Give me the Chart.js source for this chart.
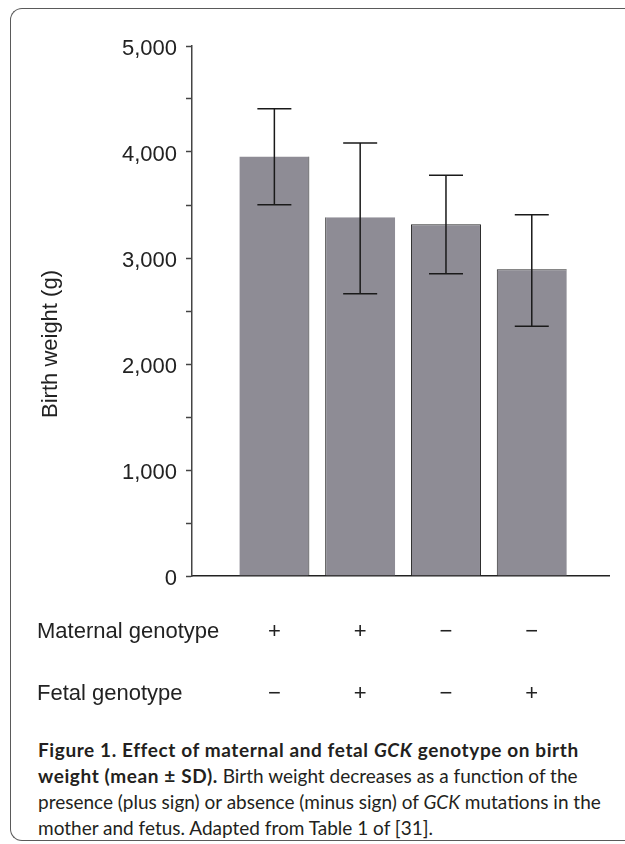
<!DOCTYPE html>
<html>
<head>
<meta charset="utf-8">
<script src="https://cdn.jsdelivr.net/npm/chart.js@4.4.1/dist/chart.umd.min.js"></script>
<style>
  html, body { margin: 0; padding: 0; background: #fff; }
  body { width: 625px; height: 844px; position: relative; overflow: hidden; }
  .frame {
    position: absolute; left: 10px; top: 8px; width: 640px; height: 833px;
    border: 1.5px solid #5a5a5a; border-right: none; border-radius: 12px 0 0 12px;
    box-sizing: border-box;
  }
  .plot { position: absolute; left: 0; top: 0; width: 625px; height: 720px; }
  .caption {
    position: absolute; left: 38px; top: 737px;
    font-family: Lato, 'Open Sans', sans-serif; font-size: 19px; line-height: 26px;
    color: #231f20; white-space: nowrap;
  }
  .caption b { letter-spacing: 0.6px; }
</style>
</head>
<body>
<div class="frame"></div>
<div class="plot"><canvas id="myChart"></canvas></div>
<div class="caption">
  <b>Figure 1. Effect of maternal and fetal <i>GCK</i> genotype on birth</b><br>
  <b>weight (mean ± SD).</b> Birth weight decreases as a function of the<br>
  presence (plus sign) or absence (minus sign) of <i>GCK</i> mutations in the<br>
  mother and fetus. Adapted from Table 1 of [31].
</div>
<script>
/* globals Chart:false */

// genotype of each group
const maternal = ['+', '+', '−', '−']
const fetal = ['−', '+', '−', '+']

// birth weight, g
const means = [3957, 3384, 3318, 2893]
const sdHigh = [4407, 4086, 3781, 3409]
const sdLow = [3503, 2663, 2852, 2356]

const yTicks = [0, 1000, 2000, 3000, 4000, 5000]

const FONT = "'Liberation Sans', Arial, sans-serif"
const INK = '#222'

const errorBars = {
  id: 'errorBars',
  afterDatasetsDraw (chart) {
    const { ctx, scales: { x, y } } = chart
    ctx.save()
    ctx.strokeStyle = '#1a1a1a'
    ctx.lineWidth = 1.5
    means.forEach((m, i) => {
      const px = x.getPixelForValue(i + 1)
      const top = y.getPixelForValue(sdHigh[i])
      const bot = y.getPixelForValue(sdLow[i])
      ctx.beginPath()
      ctx.moveTo(px, top); ctx.lineTo(px, bot)
      ctx.moveTo(px - 17, top); ctx.lineTo(px + 17, top)
      ctx.moveTo(px - 17, bot); ctx.lineTo(px + 17, bot)
      ctx.stroke()
    })
    ctx.restore()
  }
}

// y title sits a bit low in the original, and the row headers live left of the plot
const sideLabels = {
  id: 'sideLabels',
  afterDraw (chart) {
    const { ctx, scales: { x } } = chart
    ctx.save()
    ctx.fillStyle = INK
    ctx.font = '22px ' + FONT
    ctx.textBaseline = 'middle'
    ctx.textAlign = 'left'
    const row1 = x.top + 25 + 31
    ctx.fillText('Maternal genotype', 37, row1)
    ctx.fillText('Fetal genotype', 37, row1 + 62)
    ctx.translate(51, 344)
    ctx.rotate(-Math.PI / 2)
    ctx.textAlign = 'center'
    ctx.fillText('Birth weight (g)', 0, 0)
    ctx.restore()
  }
}

const ctx = document.getElementById('myChart')
// eslint-disable-next-line no-unused-vars
const myChart = new Chart(ctx, {
  type: 'bar',
  data: {
    datasets: [{
      data: means.map((m, i) => ({ x: i + 1, y: m })),
      backgroundColor: '#8e8c95',
      borderColor: '#2a2a2a',
      borderWidth: [
        { right: 1 },
        { left: 1 },
        { left: 1, top: 1, right: 1 },
        { left: 1, top: 1 }
      ],
      barPercentage: 0.816,
      categoryPercentage: 1
    }]
  },
  options: {
    responsive: true,
    maintainAspectRatio: false,
    animation: false,
    layout: { padding: { top: 46, right: 16, left: 0, bottom: 0 } },
    plugins: {
      legend: { display: false },
      tooltip: { enabled: false }
    },
    scales: {
      x: {
        type: 'linear',
        offset: false,
        min: 0.04,
        max: 4.9,
        afterBuildTicks (s) {
          s.ticks = maternal.map((_, i) => ({ value: i + 1 }))
        },
        afterFit (s) { s.height = 144 },
        grid: { offset: false, drawOnChartArea: false, drawTicks: false },
        border: { color: INK, width: 1.5 },
        ticks: {
          autoSkip: false,
          maxRotation: 0,
          padding: 25,
          color: INK,
          font: { family: FONT, size: 22, lineHeight: 62 / 22 },
          callback: (v, i) => [maternal[i], fetal[i]]
        }
      },
      y: {
        min: 0,
        max: 5000,
        afterBuildTicks (s) {
          const t = []
          yTicks.forEach((v, i) => {
            t.push({ value: v })
            if (i < yTicks.length - 1) t.push({ value: (v + yTicks[i + 1]) / 2 })
          })
          s.ticks = t
        },
        afterFit (s) { s.width = 192 },
        grid: { drawOnChartArea: false, tickLength: 6, tickColor: '#444', tickWidth: 1.5 },
        border: { color: '#444', width: 1.5 },
        ticks: {
          padding: 9,
          labelOffset: 3,
          color: INK,
          font: { family: FONT, size: 22 },
          callback: v => yTicks.includes(v) ? v.toLocaleString('en-US') : ''
        }
      }
    }
  },
  plugins: [errorBars, sideLabels]
})
</script>
</body>
</html>
